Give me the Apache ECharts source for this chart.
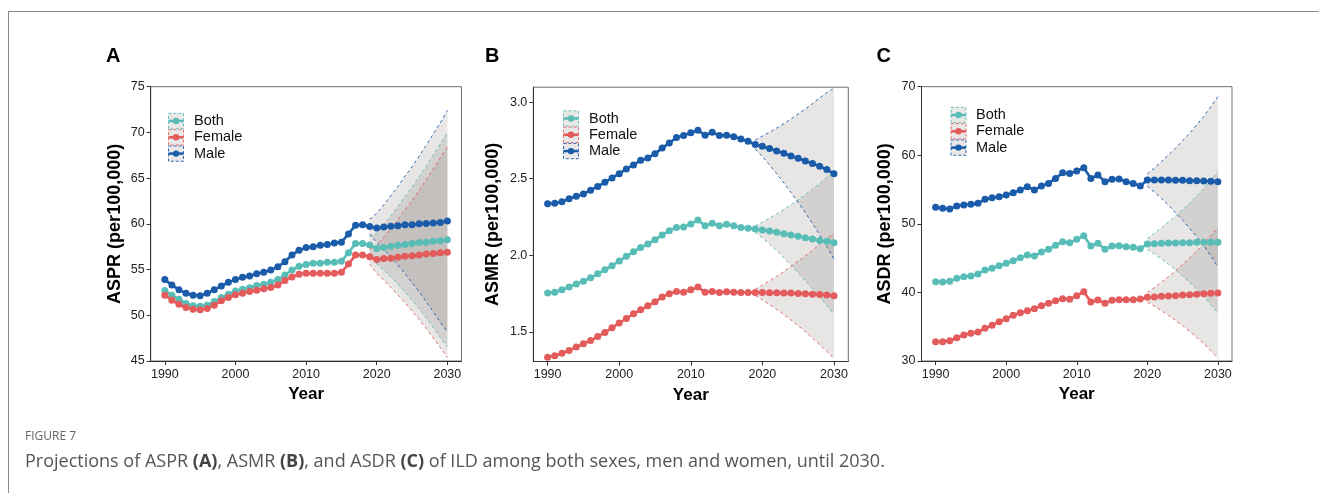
<!DOCTYPE html>
<html>
<head>
<meta charset="utf-8">
<script src="https://cdn.jsdelivr.net/npm/echarts@6/dist/echarts.min.js"></script>
<style>
html,body{margin:0;padding:0;background:#fff;}
#wrap{position:relative;width:1319px;height:493px;overflow:hidden;}
#frame{position:absolute;left:8px;top:11px;right:-5px;bottom:-5px;border-left:1.5px solid #8a8a8a;border-top:1.5px solid #8a8a8a;}
#chart{position:absolute;left:0;top:0;width:1319px;height:493px;}
#fig{position:absolute;left:25px;top:427px;font-family:"Open Sans",sans-serif;font-size:12px;color:#666;}
#cap{position:absolute;left:25px;top:448px;font-family:"Open Sans",sans-serif;font-size:18px;color:#555;white-space:nowrap;}
#cap b{font-weight:700;color:#444;}
</style>
</head>
<body>
<div id="wrap">
<div id="frame"></div>
<div id="chart"></div>
<div id="fig">FIGURE 7</div>
<div id="cap">Projections of ASPR <b>(A)</b>, ASMR <b>(B)</b>, and ASDR <b>(C)</b> of ILD among both sexes, men and women, until 2030.</div>
</div>
<script>
// ---------- data ----------
const years = [1990,1991,1992,1993,1994,1995,1996,1997,1998,1999,2000,2001,2002,2003,2004,2005,2006,2007,2008,2009,2010,2011,2012,2013,2014,2015,2016,2017,2018,2019,2020,2021,2022,2023,2024,2025,2026,2027,2028,2029,2030];
const xTicks = [1990,2000,2010,2020,2030];
const seriesNames = ['Both','Female','Male'];

// ASPR
const asprBoth = [52.7,52.2,51.75,51.3,51.05,51.0,51.1,51.5,51.95,52.3,52.65,52.85,53.0,53.25,53.4,53.6,53.9,54.4,54.95,55.35,55.55,55.7,55.7,55.8,55.8,55.9,56.85,57.85,57.85,57.7,57.3,57.4,57.55,57.65,57.75,57.85,57.95,58.0,58.1,58.15,58.25];
const asprFemale = [52.2,51.65,51.2,50.85,50.65,50.6,50.75,51.1,51.6,51.95,52.25,52.4,52.6,52.75,52.9,53.05,53.3,53.8,54.2,54.5,54.6,54.6,54.6,54.6,54.6,54.7,55.6,56.6,56.6,56.4,56.1,56.2,56.25,56.35,56.45,56.5,56.6,56.7,56.75,56.85,56.9];
const asprMale = [53.9,53.3,52.8,52.4,52.2,52.15,52.4,52.8,53.2,53.6,53.9,54.15,54.3,54.55,54.7,54.95,55.3,55.85,56.6,57.1,57.4,57.5,57.65,57.75,57.9,58.0,58.9,59.85,59.9,59.7,59.55,59.65,59.75,59.8,59.9,59.9,60.0,60.05,60.1,60.15,60.3];
const asprRibbonYears = [2019,2020,2021,2022,2023,2024,2025,2026,2027,2028,2029,2030];
const asprBothUpper = [58.6,58.96,59.87,60.88,61.9,62.97,64.04,65.17,66.3,67.53,68.72,69.95];
const asprBothLower = [56.8,55.64,54.93,54.22,53.4,52.53,51.66,50.73,49.7,48.67,47.58,46.55];
const asprFemaleUpper = [57.2,57.65,58.55,59.46,60.47,61.53,62.54,63.66,64.83,66.0,67.23,68.4];
const asprFemaleLower = [55.6,54.55,53.85,53.04,52.23,51.37,50.46,49.54,48.57,47.5,46.47,45.4];
const asprMaleUpper = [60.5,61.14,62.09,63.09,64.1,65.22,66.24,67.41,68.59,69.83,71.06,72.4];
const asprMaleLower = [58.9,57.96,57.21,56.41,55.5,54.58,53.56,52.59,51.51,50.37,49.24,48.2];
const asprTicks = [45,50,55,60,65,70,75];

// ASMR
const asmrBoth = [1.753,1.759,1.775,1.792,1.812,1.831,1.853,1.879,1.906,1.932,1.962,1.993,2.023,2.05,2.073,2.102,2.132,2.161,2.182,2.185,2.204,2.23,2.193,2.209,2.193,2.202,2.193,2.182,2.176,2.171,2.165,2.158,2.15,2.141,2.132,2.124,2.115,2.106,2.097,2.091,2.082];
const asmrFemale = [1.334,1.343,1.36,1.378,1.40,1.422,1.443,1.469,1.496,1.526,1.557,1.587,1.618,1.644,1.67,1.696,1.727,1.749,1.764,1.759,1.775,1.792,1.759,1.764,1.757,1.762,1.759,1.757,1.757,1.757,1.757,1.755,1.755,1.753,1.753,1.751,1.749,1.746,1.744,1.74,1.735];
const asmrMale = [2.337,2.34,2.35,2.37,2.385,2.40,2.425,2.45,2.477,2.505,2.533,2.564,2.59,2.62,2.636,2.664,2.70,2.734,2.77,2.782,2.80,2.817,2.784,2.804,2.782,2.784,2.775,2.76,2.745,2.723,2.712,2.697,2.682,2.666,2.649,2.634,2.616,2.599,2.581,2.56,2.533];
const asmrRibbonYears = [2019,2020,2021,2022,2023,2024,2025,2026,2027,2028,2029,2030];
const asmrBothUpper = [2.191,2.216,2.243,2.27,2.299,2.33,2.363,2.396,2.432,2.469,2.51,2.548];
const asmrBothLower = [2.151,2.114,2.073,2.03,1.983,1.934,1.885,1.834,1.78,1.725,1.672,1.616];
const asmrFemaleUpper = [1.777,1.804,1.832,1.863,1.894,1.929,1.962,1.997,2.033,2.072,2.109,2.145];
const asmrFemaleLower = [1.737,1.71,1.678,1.647,1.612,1.577,1.54,1.501,1.459,1.416,1.371,1.325];
const asmrMaleUpper = [2.753,2.779,2.804,2.831,2.86,2.89,2.923,2.955,2.991,3.028,3.063,3.091];
const asmrMaleLower = [2.693,2.645,2.59,2.533,2.472,2.408,2.345,2.277,2.207,2.134,2.057,1.975];
const asmrTicks = [1.5,2.0,2.5,3.0];

// ASDR
const asdrBoth = [41.57,41.52,41.62,42.05,42.3,42.39,42.69,43.27,43.51,43.9,44.24,44.63,45.07,45.46,45.31,45.89,46.28,46.87,47.4,47.25,47.74,48.27,46.77,47.16,46.28,46.77,46.82,46.67,46.57,46.38,47.06,47.11,47.16,47.21,47.21,47.25,47.25,47.3,47.3,47.3,47.3];
const asdrFemale = [32.82,32.82,32.96,33.4,33.79,34.03,34.23,34.76,35.2,35.74,36.17,36.66,37.05,37.34,37.63,38.07,38.41,38.8,39.09,38.99,39.53,40.11,38.6,38.89,38.41,38.85,38.94,38.94,38.94,39.04,39.28,39.33,39.43,39.48,39.53,39.62,39.67,39.72,39.82,39.87,39.91];
const asdrMale = [52.41,52.26,52.16,52.6,52.75,52.84,52.99,53.57,53.82,53.96,54.2,54.54,54.93,55.42,54.93,55.52,55.9,56.63,57.46,57.36,57.7,58.19,56.63,57.12,56.15,56.49,56.54,56.15,55.9,55.52,56.39,56.39,56.39,56.39,56.34,56.34,56.29,56.29,56.25,56.2,56.15];
const asdrRibbonYears = [2020,2021,2022,2023,2024,2025,2026,2027,2028,2029,2030];
const asdrBothUpper = [47.86,48.62,49.43,50.29,51.15,52.09,53.04,54.09,55.13,56.37,57.6];
const asdrBothLower = [46.26,45.6,44.89,44.13,43.27,42.41,41.46,40.51,39.47,38.23,37.0];
const asdrFemaleUpper = [39.98,40.69,41.5,42.3,43.15,44.08,45.02,46.0,47.07,48.27,49.46];
const asdrFemaleLower = [38.58,37.97,37.36,36.66,35.91,35.16,34.32,33.44,32.57,31.47,30.36];
const asdrMaleUpper = [57.29,58.15,59.07,60.05,61.04,62.13,63.23,64.44,65.66,67.11,68.55];
const asdrMaleLower = [55.49,54.63,53.71,52.73,51.64,50.55,49.35,48.14,46.84,45.29,43.75];
const asdrTicks = [30,40,50,60,70];

// ---------- styling ----------
const COLORS = {Both:'#58BDB6', Female:'#E35B5B', Male:'#1A5BAA'};
const RIBBON_FILL = 'rgba(112,104,100,0.17)';
const FONT = "'Liberation Sans', Arial, sans-serif";

const panels = [
  {letter:'A', name:'ASPR (per100,000)', min:45, max:75, ticks:asprTicks, dec:0, nameGap:27,
   grid:{left:150.7, top:86.7, width:310.8, height:274.3},
   vals:{Both:asprBoth, Female:asprFemale, Male:asprMale},
   ry:asprRibbonYears,
   rib:{Both:[asprBothLower,asprBothUpper], Female:[asprFemaleLower,asprFemaleUpper], Male:[asprMaleLower,asprMaleUpper]},
   legend:{x:168.5, y:121, text:194}, letterX:106},
  {letter:'B', name:'ASMR (per100,000)', min:1.306, max:3.098, ticks:asmrTicks, dec:1, nameGap:31,
   grid:{left:533.3, top:87.2, width:315, height:274.3},
   vals:{Both:asmrBoth, Female:asmrFemale, Male:asmrMale},
   ry:asmrRibbonYears,
   rib:{Both:[asmrBothLower,asmrBothUpper], Female:[asmrFemaleLower,asmrFemaleUpper], Male:[asmrMaleLower,asmrMaleUpper]},
   legend:{x:563.5, y:118.5, text:589}, letterX:485},
  {letter:'C', name:'ASDR (per100,000)', min:30, max:70, ticks:asdrTicks, dec:0, nameGap:27,
   grid:{left:921.5, top:86.7, width:310.5, height:274.3},
   vals:{Both:asdrBoth, Female:asdrFemale, Male:asdrMale},
   ry:asdrRibbonYears,
   rib:{Both:[asdrBothLower,asdrBothUpper], Female:[asdrFemaleLower,asdrFemaleUpper], Male:[asdrMaleLower,asdrMaleUpper]},
   legend:{x:951, y:115, text:976}, letterX:876.5}
];

const grids = [], xAxes = [], yAxes = [], series = [], graphics = [];
const LEG_ROW = 16.3, KEY_W = 15;

panels.forEach((p, gi) => {
  grids.push(Object.assign({show:true, borderColor:'#6e6e6e', borderWidth:1, backgroundColor:'transparent'}, p.grid));
  xAxes.push({
    type:'value', gridIndex:gi, min:1988, max:2032,
    name:'Year', nameLocation:'middle', nameGap:24,
    nameTextStyle:{fontFamily:FONT, fontWeight:'bold', fontSize:17, color:'#000'},
    axisLine:{show:true, onZero:false, lineStyle:{color:'#333', width:1}},
    axisTick:{show:true, length:4, customValues:xTicks, lineStyle:{color:'#333'}},
    axisLabel:{customValues:xTicks, fontFamily:FONT, fontSize:12.5, color:'#222', margin:7,
      formatter: v => String(v)},
    splitLine:{show:false}
  });
  yAxes.push({
    type:'value', gridIndex:gi, min:p.min, max:p.max,
    name:p.name, nameLocation:'middle', nameGap:p.nameGap, nameRotate:90,
    nameTextStyle:{fontFamily:FONT, fontWeight:'bold', fontSize:18, color:'#000'},
    axisLine:{show:true, onZero:false, lineStyle:{color:'#333', width:1}},
    axisTick:{show:true, length:4, customValues:p.ticks, lineStyle:{color:'#333'}},
    axisLabel:{customValues:p.ticks, fontFamily:FONT, fontSize:12.5, color:'#222', margin:6,
      formatter: v => Number(v).toFixed(p.dec)},
    splitLine:{show:false}
  });

  // ribbons: filled polygon through axis scales + dashed bounds
  seriesNames.forEach(s => {
    const [lo, up] = p.rib[s];
    const ry = p.ry;
    series.push({
      type:'custom', xAxisIndex:gi, yAxisIndex:gi, silent:true, z:1,
      data: ry.map((y,i)=>[y, lo[i], up[i]]),
      encode:{x:0, y:[1,2]},
      renderItem:(params, api) => {
        if (params.dataIndex !== 0) return null;
        const pts = [];
        for (let i = 0; i < ry.length; i++) pts.push(api.coord([ry[i], up[i]]));
        for (let i = ry.length - 1; i >= 0; i--) pts.push(api.coord([ry[i], lo[i]]));
        return {type:'polygon', shape:{points:pts}, style:{fill:RIBBON_FILL}};
      }
    });
    const dash = {type:[3,3], width:1, color:COLORS[s], opacity:0.9};
    series.push({type:'line', xAxisIndex:gi, yAxisIndex:gi, silent:true, z:2,
      data:ry.map((y,i)=>[y, lo[i]]), symbol:'none', lineStyle:dash});
    series.push({type:'line', xAxisIndex:gi, yAxisIndex:gi, silent:true, z:2,
      data:ry.map((y,i)=>[y, up[i]]), symbol:'none', lineStyle:dash});
  });
  // lines
  seriesNames.forEach((s, k) => {
    series.push({
      type:'line', name:s, xAxisIndex:gi, yAxisIndex:gi, silent:true, z:3+k,
      data:years.map((y,i)=>[y, p.vals[s][i]]),
      symbol:'circle', symbolSize:7, showSymbol:true,
      lineStyle:{width:2.6, color:COLORS[s]}, itemStyle:{color:COLORS[s]}
    });
  });

  // panel letter
  graphics.push({type:'text', x:p.letterX, y:56.5, style:{text:p.letter, font:"bold 20px 'Liberation Sans', Arial, sans-serif", fill:'#000', verticalAlign:'middle', align:'left'}});
  // legend keys
  seriesNames.forEach((s, k) => {
    const cy = p.legend.y + k*LEG_ROW;
    const c = COLORS[s];
    graphics.push({type:'rect', shape:{x:p.legend.x, y:cy-LEG_ROW/2+0.5, width:KEY_W, height:LEG_ROW-1},
      style:{fill:RIBBON_FILL, stroke:c, lineWidth:1, lineDash:[3,2], opacity:0.9}});
    graphics.push({type:'line', shape:{x1:p.legend.x, y1:cy, x2:p.legend.x+KEY_W, y2:cy}, style:{stroke:c, lineWidth:2.5}});
    graphics.push({type:'circle', shape:{cx:p.legend.x+KEY_W/2, cy:cy, r:3.2}, style:{fill:c}});
    graphics.push({type:'text', x:p.legend.text, y:cy, style:{text:s, font:"14.5px 'Liberation Sans', Arial, sans-serif", fill:'#111', verticalAlign:'middle', align:'left'}});
  });
});

const chart = echarts.init(document.getElementById('chart'), null, {renderer:'canvas'});
chart.setOption({
  animation:false,
  backgroundColor:'transparent',
  grid:grids, xAxis:xAxes, yAxis:yAxes, series:series,
  graphic:graphics
});
</script>
</body>
</html>
